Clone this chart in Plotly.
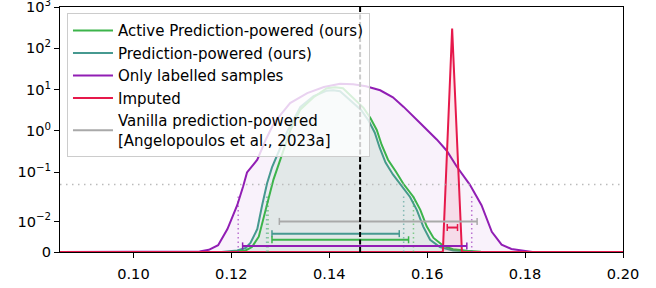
import numpy as np
import plotly.graph_objects as go

# ---------------- data ----------------
# Only labelled samples (purple)
x_lab = [0.085, 0.110, 0.1135, 0.1154, 0.1173, 0.1192, 0.1212, 0.1224, 0.1232, 0.1253,
         0.1270, 0.1287, 0.1320, 0.1355, 0.1389, 0.1422, 0.1449, 0.1475, 0.1504, 0.1530,
         0.1552, 0.1586, 0.1620, 0.1640, 0.1660, 0.1687, 0.1711, 0.1732, 0.1752, 0.1772,
         0.1795, 0.1815, 0.200]
y_lab = [0, 0, 0.0002, 0.0007, 0.0022, 0.0075, 0.0158, 0.045, 0.098, 0.20,
         0.6, 1.55, 4.7, 8.2, 11.5, 13.8, 13.4, 12.0, 9.6, 6.5,
         3.8, 1.53, 0.61, 0.33, 0.139, 0.05, 0.0158, 0.0066, 0.0024, 0.001,
         0.0004, 0, 0]

# Prediction-powered (ours) (teal)
x_pp = [0.085, 0.118, 0.1212, 0.1229, 0.1239, 0.1253, 0.1263, 0.1273, 0.1283, 0.1293,
        0.1314, 0.1341, 0.1368, 0.1395, 0.1408, 0.1422, 0.1445, 0.1465, 0.1480, 0.1493,
        0.1503, 0.1515, 0.1530, 0.1545, 0.1565, 0.1579, 0.1592, 0.1606, 0.1626, 0.1653,
        0.1690, 0.1730, 0.200]
y_pp = [0, 0, 0.0005, 0.0013, 0.003, 0.0075, 0.016, 0.054, 0.13, 0.25,
        0.95, 3.8, 6.9, 9.4, 9.6, 9.1, 5.2, 3.2, 1.8, 0.9,
        0.39, 0.17, 0.088, 0.05, 0.025, 0.0137, 0.0083, 0.004, 0.0016, 0.0005,
        0.0001, 0, 0]

# Active prediction-powered (ours) (green)
x_act = [0.085, 0.120, 0.1229, 0.1242, 0.1256, 0.1266, 0.1276, 0.1286, 0.1300, 0.1320,
         0.1341, 0.1368, 0.1395, 0.1412, 0.1428, 0.1450, 0.1470, 0.1484, 0.1497, 0.1507,
         0.1520, 0.1536, 0.1551, 0.1572, 0.1586, 0.1599, 0.1613, 0.1633, 0.1653, 0.1681,
         0.1710, 0.1750, 0.200]
y_act = [0, 0, 0.0005, 0.0016, 0.005, 0.011, 0.024, 0.066, 0.2, 1.0,
         3.3, 6.5, 10.8, 11.4, 10.8, 5.9, 3.6, 2.05, 1.05, 0.46,
         0.2, 0.104, 0.053, 0.025, 0.0138, 0.0084, 0.0046, 0.002, 0.0009, 0.0004,
         0.0001, 0, 0]

# Imputed (red)
x_imp = [0.085, 0.1632, 0.1651, 0.1671, 0.200]
y_imp = [0, 0, 300, 0, 0]

# Confidence intervals: name, low, high, drawn level
int_names = ["Vanilla", "Imputed", "PP", "Active", "Labelled"]
int_lo = [0.1298, 0.1641, 0.1283, 0.1283, 0.1223]
int_hi = [0.1702, 0.1662, 0.1543, 0.1562, 0.1681]
int_level = [0.010, 0.008, 0.006, 0.004, 0.002]

# Dotted quantile markers
q_lab = [0.1214, 0.1691]
q_pp = [0.1272, 0.1552]
q_act = [0.1275, 0.1572]
q_height = 0.03

true_value = 0.1463
threshold = 0.05

y_tick_vals = [0, 0.01, 0.1, 1, 10, 100, 1000]
y_tick_text = ["0", "10<sup>−2</sup>", "10<sup>−1</sup>", "10<sup>0</sup>",
               "10<sup>1</sup>", "10<sup>2</sup>", "10<sup>3</sup>"]
x_tick_vals = [0.10, 0.12, 0.14, 0.16, 0.18, 0.20]

# ---------------- symlog scale (linthresh, linscale=1) ----------------
LINTHRESH = 0.015
LINSCALE = 1.0 / (1.0 - 1.0 / 10.0)


def symlog(v):
    v = np.asarray(v, dtype=float)
    safe = np.maximum(v, LINTHRESH)
    return np.where(v <= LINTHRESH, v / LINTHRESH * LINSCALE,
                    LINSCALE + np.log10(safe / LINTHRESH))


GREEN = "#3cb44b"
TEAL = "#469990"
PURPLE = "#911eb4"
RED = "#e6194b"
GREY = "#a9a9a9"

fig = go.Figure()

curves = [
    (x_lab, y_lab, PURPLE, "rgba(145,30,180,0.06)"),
    (x_pp, y_pp, TEAL, "rgba(70,153,144,0.07)"),
    (x_act, y_act, GREEN, "rgba(60,180,75,0.06)"),
    (x_imp, y_imp, RED, "rgba(230,25,75,0.10)"),
]
for xs, ys, col, fcol in curves:
    fig.add_trace(go.Scatter(x=xs, y=symlog(ys), mode="lines", fill="tozeroy",
                             fillcolor=fcol, line=dict(color=col, width=2),
                             showlegend=False, hoverinfo="skip"))

# horizontal dotted threshold
fig.add_trace(go.Scatter(x=[0.085, 0.200], y=symlog([threshold, threshold]), mode="lines",
                         line=dict(color="#bbbbbb", width=1.5, dash="1.5px,4.5px"),
                         showlegend=False, hoverinfo="skip"))

# vertical dotted quantile markers
for qs, col in [(q_lab, "rgba(145,30,180,0.6)"), (q_pp, "rgba(70,153,144,0.6)"),
                (q_act, "rgba(60,180,75,0.6)")]:
    for q in qs:
        fig.add_trace(go.Scatter(x=[q, q], y=symlog([0, q_height]), mode="lines",
                                 line=dict(color=col, width=1.5, dash="1.5px,3px"),
                                 showlegend=False, hoverinfo="skip"))

# intervals
int_colors = [GREY, RED, TEAL, GREEN, PURPLE]
for lo, hi, lev, col in zip(int_lo, int_hi, int_level, int_colors):
    fig.add_trace(go.Scatter(x=[lo, hi], y=symlog([lev, lev]), mode="lines+markers",
                             line=dict(color=col, width=2),
                             marker=dict(symbol="line-ns-open", size=5,
                                         line=dict(color=col, width=1.5)),
                             showlegend=False, hoverinfo="skip"))

# true value dashed line
fig.add_trace(go.Scatter(x=[true_value, true_value], y=symlog([0, 1000]), mode="lines",
                         line=dict(color="black", width=2, dash="5px,2.5px"),
                         showlegend=False, hoverinfo="skip"))

# legend entries
legend_items = [
    ("Active Prediction-powered (ours)", GREEN),
    ("Prediction-powered (ours)", TEAL),
    ("Only labelled samples", PURPLE),
    ("Imputed", RED),
    ("Vanilla prediction-powered<br>[Angelopoulos et al., 2023a]", GREY),
]
for name, col in legend_items:
    fig.add_trace(go.Scatter(x=[None], y=[None], mode="lines", name=name,
                             line=dict(color=col, width=2)))

ymax = float(symlog([1000])[0]) + 1e-6
fig.update_layout(
    width=656, height=288,
    margin=dict(l=60, r=33, t=7, b=36, autoexpand=False),
    paper_bgcolor="white", plot_bgcolor="white",
    font=dict(family="DejaVu Sans", size=14.6, color="black"),
    showlegend=True,
    legend=dict(x=0.0124, y=0.975, xanchor="left", yanchor="top",
                bgcolor="rgba(255,255,255,0.8)", bordercolor="#cccccc", borderwidth=1,
                font=dict(size=15), tracegroupgap=0, itemwidth=40),
    xaxis=dict(range=[0.085, 0.200], tickvals=x_tick_vals, tickformat=".2f",
               showgrid=False, zeroline=False, showline=True, linecolor="black",
               linewidth=1, mirror=True, ticks="outside", ticklen=5, tickwidth=1,
               tickcolor="black", automargin=False, ticklabelstandoff=3,
               ticklabeloverflow="allow"),
    yaxis=dict(range=[0, ymax], tickvals=list(symlog(y_tick_vals)), ticktext=y_tick_text,
               showgrid=False, zeroline=False, showline=True, linecolor="black",
               linewidth=1, mirror=True, ticks="outside", ticklen=5, tickwidth=1,
               tickcolor="black", automargin=False, ticklabeloverflow="allow"),
)

fig.write_html("out.html", config={"displayModeBar": False})

# remove the default page margin so the figure sits at the window origin
with open("out.html", "r", encoding="utf-8") as f:
    html = f.read()
html = html.replace("<head>", "<head><style>html,body{margin:0;padding:0;}</style>", 1)
with open("out.html", "w", encoding="utf-8") as f:
    f.write(html)
